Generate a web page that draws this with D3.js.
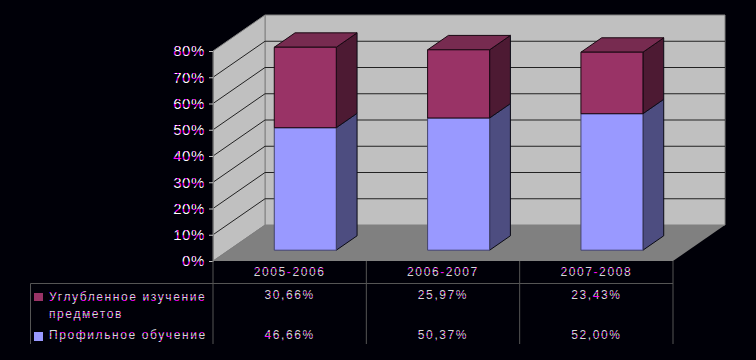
<!DOCTYPE html>
<html>
<head>
<meta charset="utf-8">
<script src="https://cdnjs.cloudflare.com/ajax/libs/d3/7.8.5/d3.min.js"></script>
<style>
    html, body { margin: 0; padding: 0; background: #000008; }
    svg { display: block; }
    text { font-family: "Liberation Sans", Arial, sans-serif; }
</style>
</head>
<body>
<svg id="chart" width="756" height="360"></svg>
<script>
"use strict"

const categories = ["2005-2006", "2006-2007", "2007-2008"];
const profile_values = [46.66, 50.37, 52.00];
const deep_values = [30.66, 25.97, 23.43];
const profile_labels = ["46,66%", "50,37%", "52,00%"];
const deep_labels = ["30,66%", "25,97%", "23,43%"];
const y_ticks = [0, 10, 20, 30, 40, 50, 60, 70, 80];
const legend_deep = ["Углубленное изучение", "предметов"];
const legend_profile = ["Профильное обучение"];

const svg = d3.select("#chart");

// front plane of the 3d box
const scaleX = d3.scaleBand().domain(categories).range([213, 673]);
const scaleY = d3.scaleLinear().domain([0, 80]).range([261, 51]);
const depth = {"x": 52, "y": -36};

function project(x, y, d) {
    return [x + d*depth.x, y + d*depth.y];
}

function poly(parent, points, fill, stroke, width) {
    return parent.append("polygon")
        .attr("points", points.map(p => p.join(",")).join(" "))
        .attr("fill", fill)
        .attr("stroke", stroke)
        .attr("stroke-width", width);
}

// stripes give the text its white / magenta look
const defs = svg.append("defs");
const pattern = defs.append("pattern")
    .attr("id", "text_stripes")
    .attr("patternUnits", "userSpaceOnUse")
    .attr("width", 4)
    .attr("height", 13);
pattern.append("rect").attr("width", 4).attr("height", 13).attr("fill", "#ffffff");
pattern.append("rect").attr("width", 4).attr("height", 3).attr("fill", "#ff00ff");
pattern.append("rect").attr("y", 8).attr("width", 2).attr("height", 2).attr("fill", "#ff00ff");

const cell_pattern = defs.append("pattern")
    .attr("id", "cell_stripes")
    .attr("patternUnits", "userSpaceOnUse")
    .attr("width", 3)
    .attr("height", 4);
cell_pattern.append("rect").attr("width", 3).attr("height", 4).attr("fill", "#d8d8d8");
cell_pattern.append("rect").attr("width", 3).attr("height", 1).attr("fill", "#ff00ff");

///////////////////////////
// Walls and floor
const x0 = scaleX.range()[0];
const x1 = scaleX.range()[1];
const yBottom = scaleY(0);
const yTop = scaleY(80);

poly(svg, [project(x0, yBottom, 0), project(x1, yBottom, 0), project(x1, yBottom, 1), project(x0, yBottom, 1)],
     "#808080", "none", 0);
poly(svg, [project(x0, yBottom, 1), project(x1, yBottom, 1), project(x1, yTop, 1), project(x0, yTop, 1)],
     "#c0c0c0", "#808080", 1);
poly(svg, [project(x0, yBottom, 0), project(x0, yBottom, 1), project(x0, yTop, 1), project(x0, yTop, 0)],
     "#c0c0c0", "#808080", 1);

// Gridlines run along the side wall and the back wall
const grid = svg.append("g").attr("fill", "none").attr("stroke", "#222222");
y_ticks.filter(t => t > 0 && t < 80).forEach(function (t) {
    const a = project(x0, scaleY(t), 0);
    const b = project(x0, scaleY(t), 1);
    const c = project(x1, scaleY(t), 1);
    grid.append("polyline")
        .attr("points", [a, b, c].map(p => p.join(",")).join(" "));
});

///////////////////////////
// Stacked bars, drawn from the bottom segment up
const frontD = 0.3;
const backD = 0.7;
const barWidth = 62;

categories.forEach(function (cat, i) {
    const left = scaleX(cat) + scaleX.bandwidth()/2 - barWidth/2;
    const right = left + barWidth;
    const stacks = [
        {"from": 0, "to": profile_values[i], "front": "#9999ff", "side": "#4d4d80", "top": "#7a7ac8", "edge": "#44446a"},
        {"from": profile_values[i], "to": profile_values[i] + deep_values[i], "front": "#993366", "side": "#4d1a33", "top": "#772b50", "edge": "#1a0812"}
    ];
    stacks.forEach(function (s) {
        const y0 = scaleY(s.from);
        const y1 = scaleY(s.to);
        poly(svg, [project(right, y0, frontD), project(right, y0, backD), project(right, y1, backD), project(right, y1, frontD)],
             s.side, "#0a0a14", 1);
        poly(svg, [project(left, y1, frontD), project(right, y1, frontD), project(right, y1, backD), project(left, y1, backD)],
             s.top, s.edge, 1);
        poly(svg, [project(left, y0, frontD), project(right, y0, frontD), project(right, y1, frontD), project(left, y1, frontD)],
             s.front, s.edge, 1);
    });
});

///////////////////////////
// Value axis
const yAxis = d3.axisLeft(scaleY)
    .tickValues(y_ticks)
    .tickFormat(d => d + "%")
    .tickSize(4)
    .tickPadding(4);
const yAxisGroup = svg.append("g")
    .attr("transform", "translate(" + x0 + ",0)")
    .call(yAxis);
yAxisGroup.select(".domain").attr("stroke", "#808080");
yAxisGroup.selectAll(".tick line").attr("stroke", "#c0c0c0");
yAxisGroup.selectAll(".tick text")
    .attr("font-size", 15)
    .attr("letter-spacing", 0.6)
    .attr("fill", "url(#text_stripes)")
    .style("font-family", "\"Liberation Sans\", Arial, sans-serif");

///////////////////////////
// Data table under the chart
const tableLines = svg.append("g").attr("stroke", "#555555").attr("fill", "none");
const tableTop = yBottom;
const tableRule = 283.5;
const tableBottom = 344;
const tableLeft = 30.5;

tableLines.append("line").attr("x1", tableLeft).attr("x2", x1).attr("y1", tableRule).attr("y2", tableRule);
tableLines.append("line").attr("x1", tableLeft).attr("x2", tableLeft).attr("y1", tableRule).attr("y2", tableBottom);
categories.concat([null]).forEach(function (cat) {
    const x = cat === null ? x1 : scaleX(cat);
    tableLines.append("line").attr("x1", x).attr("x2", x).attr("y1", tableTop).attr("y2", tableBottom);
});

function cell_text(x, y, s, anchor) {
    return svg.append("text")
        .attr("x", x)
        .attr("y", y)
        .attr("text-anchor", anchor)
        .attr("font-size", 12)
        .attr("letter-spacing", 1.6)
        .attr("fill", "url(#cell_stripes)")
        .text(s);
}

categories.forEach(function (cat, i) {
    const cx = scaleX(cat) + scaleX.bandwidth()/2;
    cell_text(cx, 276, cat, "middle");
    cell_text(cx, 299, deep_labels[i], "middle");
    cell_text(cx, 339, profile_labels[i], "middle");
});

legend_deep.forEach(function (s, i) {
    cell_text(49, 301 + i*17, s, "start");
});
legend_profile.forEach(function (s) {
    cell_text(49, 339, s, "start");
});

// Legend keys
svg.append("rect").attr("x", 34).attr("y", 293).attr("width", 9).attr("height", 8)
    .attr("fill", "#993366");
svg.append("rect").attr("x", 34).attr("y", 332).attr("width", 9).attr("height", 9)
    .attr("fill", "#9999ff");
</script>
</body>
</html>
